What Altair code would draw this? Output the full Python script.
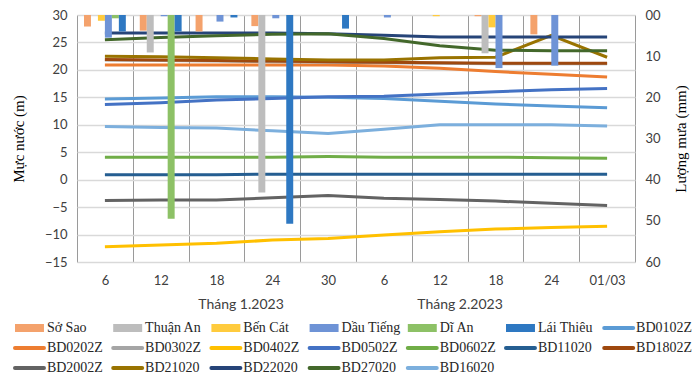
import altair as alt
import pandas as pd

# ---------------- data ----------------
categories = ["06/01", "12/01", "18/01", "24/01", "30/01",
              "06/02", "12/02", "18/02", "24/02", "01/03"]
tick_labels = ["6", "12", "18", "24", "30", "6", "12", "18", "24", "01/03"]
month_labels = ["Tháng 1.2023", "Tháng  2.2023"]

rain_stations = ["Sở Sao", "Thuận An", "Bến Cát", "Dầu Tiếng", "Dĩ An", "Lái Thiêu"]
rain_colors = ["#F4A26C", "#BDBDBD", "#FFCB3D", "#6E93D6", "#8DC166", "#2E78C2"]
rain_so_sao = [2.8, 3.8, 4.0, 2.7, 0, 0, 0, 0.3, 4.7, 0]
rain_thuan_an = [0, 9.1, 0, 43.1, 0, 0, 0, 9.3, 0, 0]
rain_ben_cat = [1.4, 0, 0, 0, 0, 0, 0.3, 3.0, 0, 0]
rain_dau_tieng = [5.5, 0.3, 1.6, 0.8, 0, 0.6, 0, 12.9, 12.3, 0]
rain_di_an = [0.8, 49.5, 0, 0, 0, 0, 0, 0, 0, 0]
rain_lai_thieu = [4.0, 4.0, 0.6, 50.7, 3.3, 0, 0, 0, 0, 0]
rain_values = [rain_so_sao, rain_thuan_an, rain_ben_cat,
               rain_dau_tieng, rain_di_an, rain_lai_thieu]

line_series = ["BD0102Z", "BD0202Z", "BD0302Z", "BD0402Z", "BD0502Z", "BD0602Z",
               "BD11020", "BD1802Z", "BD2002Z", "BD21020", "BD22020", "BD27020", "BD16020"]
line_colors = ["#5B9BD5", "#ED7D31", "#A5A5A5", "#FFC000", "#4472C4", "#70AD47",
               "#255E91", "#9E480E", "#636363", "#997300", "#264478", "#43682B", "#7CAFDD"]
BD0102Z = [14.7, 14.9, 15.1, 15.1, 15.0, 14.8, 14.3, 13.8, 13.4, 13.1]
BD0202Z = [20.9, 20.9, 20.9, 20.9, 20.9, 20.7, 20.3, 19.7, 19.2, 18.7]
BD0302Z = [21.8, 21.7, 21.6, 21.5, 21.4, 21.3, 21.2, 21.1, 21.1, 21.1]
BD0402Z = [-12.2, -11.9, -11.6, -11.0, -10.7, -10.1, -9.5, -9.0, -8.7, -8.5]
BD0502Z = [13.7, 14.0, 14.5, 14.8, 15.1, 15.2, 15.6, 16.0, 16.4, 16.6]
BD0602Z = [4.1, 4.1, 4.1, 4.1, 4.2, 4.1, 4.1, 4.1, 4.0, 3.9]
BD11020 = [0.9, 0.9, 0.9, 1.0, 1.0, 1.0, 1.0, 1.0, 1.0, 1.0]
BD1802Z = [21.9, 21.8, 21.7, 21.6, 21.5, 21.4, 21.3, 21.2, 21.2, 21.2]
BD2002Z = [-3.8, -3.7, -3.7, -3.3, -2.9, -3.4, -3.6, -3.9, -4.3, -4.7]
BD21020 = [22.5, 22.4, 22.2, 22.0, 21.8, 21.8, 22.2, 22.3, 26.3, 22.3]
BD22020 = [26.7, 26.7, 26.7, 26.7, 26.6, 26.3, 26.0, 26.0, 26.0, 26.0]
BD27020 = [25.5, 25.9, 26.2, 26.5, 26.6, 25.7, 24.4, 23.6, 23.5, 23.5]
BD16020 = [9.7, 9.5, 9.4, 8.9, 8.4, 9.2, 10.0, 10.0, 10.0, 9.8]
line_values = [BD0102Z, BD0202Z, BD0302Z, BD0402Z, BD0502Z, BD0602Z,
               BD11020, BD1802Z, BD2002Z, BD21020, BD22020, BD27020, BD16020]

# ---------------- tables ----------------
rain_df = pd.DataFrame([
    {"cat": c, "station": s, "rain": v}
    for s, vals in zip(rain_stations, rain_values)
    for c, v in zip(categories, vals)
])
line_df = pd.DataFrame([
    {"cat": c, "series": s, "level": v, "k": i}
    for s, vals in zip(line_series, line_values)
    for i, (c, v) in enumerate(zip(categories, vals))
])
all_names = rain_stations + line_series
all_colors = rain_colors + line_colors
legend_df = pd.DataFrame({
    "name": all_names,
    "i": list(range(len(all_names))),
    "kind": ["bar"] * len(rain_stations) + ["line"] * len(line_series),
})

color_scale = alt.Scale(domain=all_names, range=all_colors)
x_scale = alt.Scale(type="band", domain=categories, paddingInner=0, paddingOuter=0)

label_expr = ("[" + ",".join(f"'{t}'" for t in tick_labels) + "][indexof(["
              + ",".join(f"'{c}'" for c in categories) + "], datum.value)]")

SANS = "Lato"
SERIF = "Liberation Serif"

# ---------------- lines (left axis) ----------------
lines = alt.Chart(line_df).mark_line(strokeWidth=3, interpolate="linear").encode(
    x=alt.X("cat:N", scale=x_scale, bandPosition=0.5,
            axis=alt.Axis(title=None, labelExpr=label_expr, labelAngle=0,
                          tickBand="extent", grid=True, gridColor="#9A9A9A",
                          gridWidth=1, ticks=False, domain=False,
                          labelPadding=12, labelFont=SANS, labelFontSize=13,
                          labelColor="#404040")),
    y=alt.Y("level:Q", scale=alt.Scale(domain=[-15, 30], nice=False, zero=False),
            axis=alt.Axis(values=list(range(-15, 31, 5)), title="Mực nước (m)",
                          titleFont=SERIF, titleFontSize=15, titleFontWeight="normal",
                          titleColor="#000000", titlePadding=18,
                          labelFont=SANS, labelFontSize=13, labelColor="#404040",
                          labelPadding=10, ticks=False, domain=False,
                          grid=True, gridColor="#D9D9D9", gridWidth=1.5)),
    color=alt.Color("series:N", scale=color_scale, legend=None),
    order=alt.Order("k:Q"),
)

# ---------------- bars (right axis, reversed) ----------------
bars = alt.Chart(rain_df).mark_bar().encode(
    x=alt.X("cat:N", scale=x_scale, axis=None),
    xOffset=alt.XOffset("station:N", sort=rain_stations,
                        scale=alt.Scale(domain=rain_stations, paddingInner=0,
                                        paddingOuter=1)),
    y=alt.Y("rain:Q", scale=alt.Scale(domain=[0, 60], reverse=True, nice=False),
            axis=alt.Axis(orient="right", values=list(range(0, 61, 10)),
                          labelExpr="datum.value == 0 ? '00' : datum.label",
                          title="Lượng mưa (mm)", titleAngle=270,
                          titleFont=SERIF, titleFontSize=15, titleFontWeight="normal",
                          titleColor="#000000", titlePadding=28,
                          labelFont=SANS, labelFontSize=13, labelColor="#404040",
                          labelPadding=10, ticks=False, domain=False, grid=False)),
    color=alt.Color("station:N", scale=color_scale, legend=None),
)

# ---------------- custom legend ----------------
NCOL = 7
lx_scale = alt.Scale(domain=[0, NCOL], range=[-62, -62 + NCOL * 98.2])
ly_scale = alt.Scale(domain=[0, 2], range=[313, 353])

leg_base = alt.Chart(legend_df).transform_calculate(
    col=f"datum.i % {NCOL}",
    row=f"floor(datum.i / {NCOL})",
    x0="datum.col",
    x1="datum.col + 0.295",
    xt="datum.col + 0.325",
)

leg_bar = leg_base.transform_filter("datum.kind == 'bar'").mark_rule(
    strokeWidth=8, strokeCap="butt").encode(
    x=alt.X("x0:Q", scale=lx_scale, axis=None),
    x2="x1:Q",
    y=alt.Y("row:Q", scale=ly_scale, axis=None),
    color=alt.Color("name:N", scale=color_scale, legend=None),
)
leg_line = leg_base.transform_filter("datum.kind == 'line'").mark_rule(
    strokeWidth=4, strokeCap="round").encode(
    x=alt.X("x0:Q", scale=lx_scale, axis=None),
    x2="x1:Q",
    y=alt.Y("row:Q", scale=ly_scale, axis=None),
    color=alt.Color("name:N", scale=color_scale, legend=None),
)
leg_text = leg_base.mark_text(align="left", baseline="middle", font=SERIF,
                              fontSize=14, color="#262626").encode(
    x=alt.X("xt:Q", scale=lx_scale, axis=None),
    y=alt.Y("row:Q", scale=ly_scale, axis=None),
    text="name:N",
)

# ---------------- month labels ----------------
m1 = alt.Chart(pd.DataFrame({"t": [month_labels[0]]})).mark_text(
    font=SANS, fontSize=14, color="#404040", baseline="middle").encode(
    x=alt.value(164), y=alt.value(290), text="t:N")
m2 = alt.Chart(pd.DataFrame({"t": [month_labels[1]]})).mark_text(
    font=SANS, fontSize=14, color="#404040", baseline="middle").encode(
    x=alt.value(383), y=alt.value(290), text="t:N")

chart = alt.layer(lines, bars, leg_bar, leg_line, leg_text, m1, m2).resolve_scale(
    x="independent", y="independent", color="shared"
).properties(
    width=558, height=247,
    autosize=alt.AutoSizeParams(type="none"),
    padding={"left": 69, "top": 7, "right": 57, "bottom": 112},
).configure_view(
    stroke="#BDD7EE", strokeWidth=2
).configure(background="white")

chart.save("out.html", embed_options={"renderer": "svg", "actions": False})
